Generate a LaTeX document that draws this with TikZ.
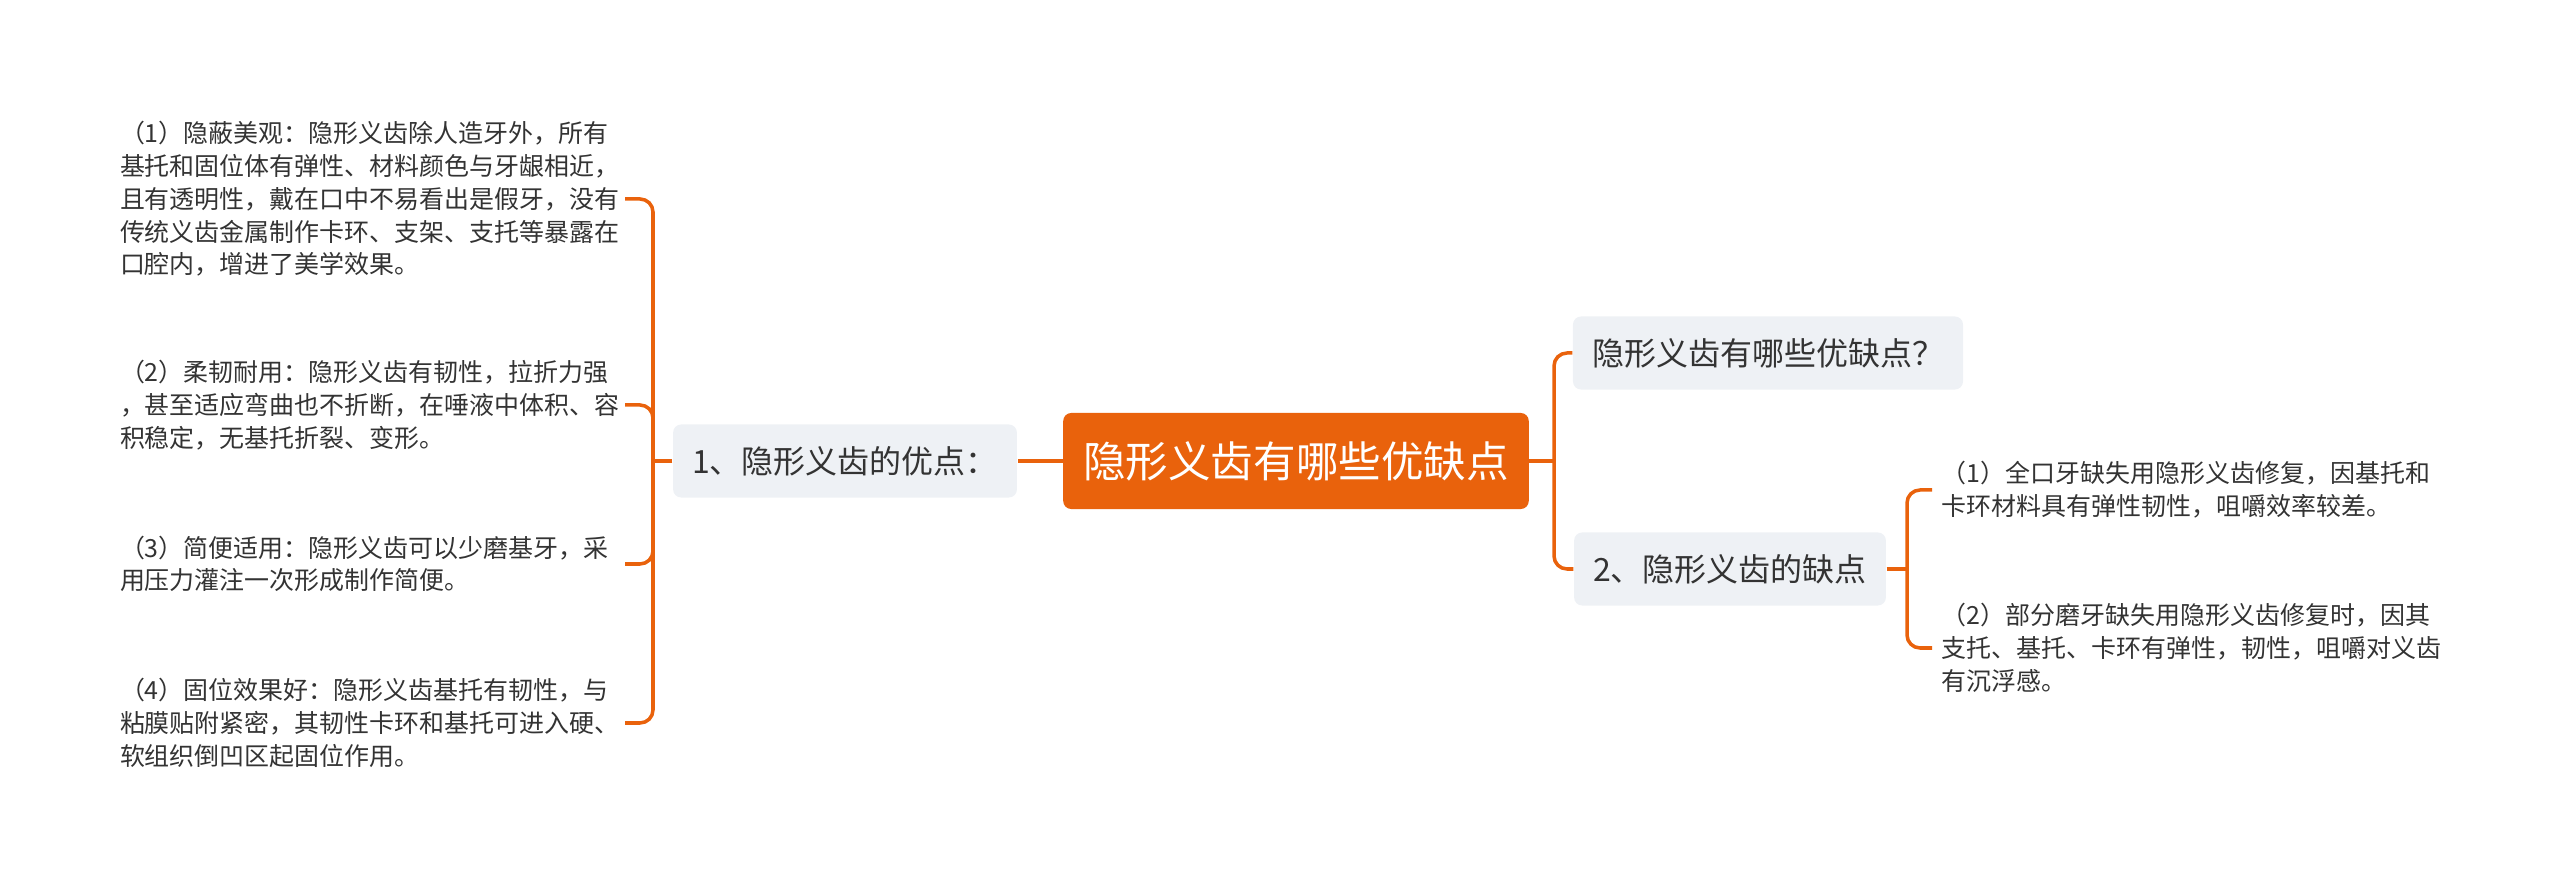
\documentclass[tikz,border=0pt]{standalone}
\usepackage{fontspec}
\setmainfont{Noto Sans CJK SC}
\usepackage{tikz}
\definecolor{brand}{HTML}{E9620C}
\definecolor{chip}{HTML}{EEF1F5}
\definecolor{ink}{HTML}{333333}

\begin{document}
\begin{tikzpicture}[x=0.01cm, y=-0.01cm,
  root/.style={rounded corners=0.08cm, fill=brand, text=white, font=\fontsize{12.1}{14}\selectfont, inner xsep=0.2cm, minimum height=0.96cm},
  topic/.style={rounded corners=0.08cm, fill=chip, text=ink, font=\fontsize{9.1}{11}\selectfont, inner xsep=0.19cm, minimum height=0.73cm},
  leaf/.style={text=ink, font=\fontsize{7.1}{9.3}\selectfont, align=left, inner ysep=0pt},
  lleaf/.style={leaf, anchor=east, text width=5cm, inner xsep=0.04cm},
  rleaf/.style={leaf, anchor=west, inner xsep=0.09cm},
  link/.style={draw=brand, line width=1pt, rounded corners=0.13cm}]
  \useasboundingbox (0,0) rectangle (2560,889);
  % main topic and branches
  \node[root] (root) at (1296,461) {隐形义齿有哪些优缺点};
  \node[topic] (plus) at (845,461) {1、隐形义齿的优点：};
  \node[topic] (ask) at (1768,353) {隐形义齿有哪些优缺点？};
  \node[topic] (minus) at (1730,569) {2、隐形义齿的缺点};
  % advantages
  \node[lleaf] (p1) at (625,199) {（1）隐蔽美观：隐形义齿除人造牙外，所有\\基托和固位体有弹性、材料颜色与牙龈相近，\\且有透明性，戴在口中不易看出是假牙，没有\\传统义齿金属制作卡环、支架、支托等暴露在\\口腔内，增进了美学效果。};
  \node[lleaf] (p2) at (625,405) {（2）柔韧耐用：隐形义齿有韧性，拉折力强\\，甚至适应弯曲也不折断，在唾液中体积、容\\积稳定，无基托折裂、变形。};
  \node[lleaf] (p3) at (625,564) {（3）简便适用：隐形义齿可以少磨基牙，采\\用压力灌注一次形成制作简便。};
  \node[lleaf] (p4) at (625,723) {（4）固位效果好：隐形义齿基托有韧性，与\\粘膜贴附紧密，其韧性卡环和基托可进入硬、\\软组织倒凹区起固位作用。};
  % disadvantages
  \node[rleaf] (m1) at (1932,490) {（1）全口牙缺失用隐形义齿修复，因基托和\\卡环材料具有弹性韧性，咀嚼效率较差。};
  \node[rleaf] (m2) at (1932,648) {（2）部分磨牙缺失用隐形义齿修复时，因其\\支托、基托、卡环有弹性，韧性，咀嚼对义齿\\有沉浮感。};
  % connectors
  \coordinate (lj) at (653,461);
  \coordinate (rj) at (1554,461);
  \coordinate (mj) at (1907,569);
  \draw[link] (root.west) -- (plus.east);
  \draw[link] (plus.west) -- (lj);
  \foreach \n in {p1,p2,p3,p4}
    \draw[link] (lj) |- (\n.east);
  \draw[link] (root.east) -- (rj);
  \foreach \n in {ask,minus}
    \draw[link] (rj) |- (\n.west);
  \draw[link] (minus.east) -- (mj);
  \foreach \n in {m1,m2}
    \draw[link] (mj) |- (\n.west);
\end{tikzpicture}
\end{document}
